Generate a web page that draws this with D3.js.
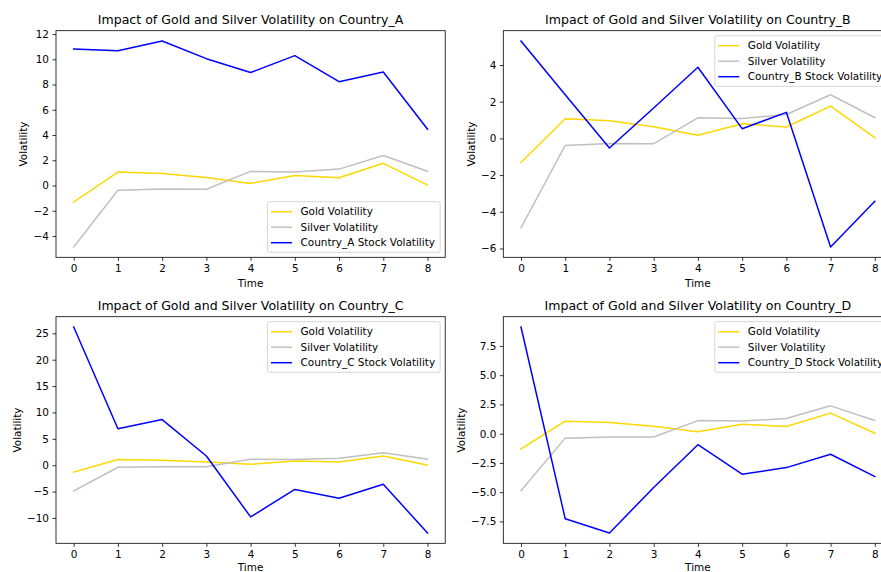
<!DOCTYPE html>
<html>
<head>
<meta charset="utf-8">
<script src="https://cdn.jsdelivr.net/npm/d3@7"></script>
<style>
  html, body { margin: 0; padding: 0; background: #fff; overflow: hidden; }
  svg { display: block; font-family: "DejaVu Sans", sans-serif; }
</style>
</head>
<body>
<svg id="chart" width="881" height="572"></svg>
<script>
// ---- data ----
const times = [0, 1, 2, 3, 4, 5, 6, 7, 8];
const goldVol   = [-1.31, 1.07, 0.96, 0.63, 0.17, 0.80, 0.62, 1.76, 0.04];
const silverVol = [-4.87, -0.38, -0.28, -0.29, 1.12, 1.08, 1.30, 2.38, 1.13];
const countries = ["Country_A", "Country_B", "Country_C", "Country_D"];
const stockA = [10.82, 10.67, 11.45, 10.05, 8.95, 10.29, 8.23, 9.00, 4.47];
const stockB = [5.31, 2.38, -0.52, 1.66, 3.88, 0.53, 1.42, -5.92, -3.43];
const stockC = [26.2, 6.9, 8.65, 1.75, -9.8, -4.6, -6.25, -3.6, -12.85];
const stockD = [9.12, -7.27, -8.49, -4.6, -0.94, -3.46, -2.9, -1.76, -3.66];
const stockSeries = [stockA, stockB, stockC, stockD];
const xTicks = [0, 1, 2, 3, 4, 5, 6, 7, 8];
const yTicksA = [-4, -2, 0, 2, 4, 6, 8, 10, 12];
const yTicksB = [-6, -4, -2, 0, 2, 4];
const yTicksC = [-10, -5, 0, 5, 10, 15, 20, 25];
const yTicksD = [-7.5, -5.0, -2.5, 0.0, 2.5, 5.0, 7.5];
const yTickSets = [yTicksA, yTicksB, yTicksC, yTicksD];
const yTickDecimals = [0, 0, 0, 1];
const legendLoc = ["lower right", "upper right", "upper right", "upper right"];
const seriesColors = { gold: "#FFD700", silver: "#C0C0C0", stock: "#0000FF" };

// ---- layout ----
const svg = d3.select("#chart");
const axW = 389.2, axH = 226.6;
const origins = [[56, 30.7], [503.3, 30.7], [56, 316.7], [503.3, 316.7]];
const fs = 10.45, fsTitle = 12.55;
const fmtMinus = s => s.replace("-", "\u2212");

function extentPad(arrs) {
  const all = arrs.flat();
  const mn = d3.min(all), mx = d3.max(all);
  const p = (mx - mn) * 0.05;
  return [mn - p, mx + p];
}

countries.forEach((c, i) => {
  const [ox, oy] = origins[i];
  const g = svg.append("g").attr("transform", `translate(${ox},${oy})`);
  const stock = stockSeries[i];
  const x = d3.scaleLinear().domain([-0.4, 8.4]).range([0, axW]);
  const y = d3.scaleLinear().domain(extentPad([goldVol, silverVol, stock])).range([axH, 0]);

  const series = [
    { label: "Gold Volatility", values: goldVol, color: seriesColors.gold },
    { label: "Silver Volatility", values: silverVol, color: seriesColors.silver },
    { label: `${c} Stock Volatility`, values: stock, color: seriesColors.stock }
  ];

  const line = d3.line().x((d, k) => x(times[k])).y(d => y(d));
  series.forEach(s => {
    g.append("path").datum(s.values)
      .attr("d", line)
      .attr("fill", "none")
      .attr("stroke", s.color)
      .attr("stroke-width", 1.5)
      .attr("stroke-linejoin", "round")
      .attr("stroke-linecap", "square");
  });

  // axes
  const dec = yTickDecimals[i];
  const xAxis = d3.axisBottom(x).tickValues(xTicks).tickSize(3.5).tickPadding(3.5).tickFormat(d => String(d));
  const yAxis = d3.axisLeft(y).tickValues(yTickSets[i]).tickSize(3.5).tickPadding(3.5)
    .tickFormat(d => fmtMinus(d.toFixed(dec)));
  const gx = g.append("g").attr("transform", `translate(0,${axH})`).call(xAxis);
  const gy = g.append("g").call(yAxis);
  [gx, gy].forEach(a => {
    a.select(".domain").remove();
    a.selectAll(".tick line").attr("stroke", "#000").attr("stroke-width", 0.8);
    a.selectAll(".tick text").attr("font-size", fs).attr("fill", "#000")
      .attr("font-family", "DejaVu Sans");
  });

  // spines
  g.append("rect").attr("x", 0).attr("y", 0).attr("width", axW).attr("height", axH)
    .attr("fill", "none").attr("stroke", "#000").attr("stroke-width", 0.8);

  // title
  g.append("text").attr("x", axW / 2).attr("y", -6.3)
    .attr("text-anchor", "middle").attr("font-size", fsTitle).attr("fill", "#000")
    .text(`Impact of Gold and Silver Volatility on ${c}`);

  // x label
  g.append("text").attr("x", axW / 2).attr("y", i < 2 ? axH + 29.8 : axH + 28)
    .attr("text-anchor", "middle").attr("font-size", fs).attr("fill", "#000")
    .text("Time");

  // y label placed left of tick labels
  let minX = 0;
  gy.selectAll(".tick text").each(function () {
    const b = this.getBBox();
    minX = Math.min(minX, b.x);
  });
  g.append("text")
    .attr("transform", `translate(${minX - 6.4},${axH / 2}) rotate(-90)`)
    .attr("text-anchor", "middle").attr("font-size", fs).attr("fill", "#000")
    .text("Volatility");

  // legend
  const lw = 172.7, lh = 50.6, pad = 5;
  const lx = axW - pad - lw;
  const ly = legendLoc[i] === "lower right" ? axH - pad - lh : pad;
  const lg = g.append("g").attr("transform", `translate(${lx},${ly})`);
  lg.append("rect").attr("width", lw).attr("height", lh).attr("rx", 2).attr("ry", 2)
    .attr("fill", "#fff").attr("fill-opacity", 0.8)
    .attr("stroke", "#cccccc").attr("stroke-width", 0.8);
  series.forEach((s, k) => {
    const cy = 10 + k * 15.5;
    lg.append("line").attr("x1", 3.5).attr("x2", 24.5).attr("y1", cy).attr("y2", cy)
      .attr("stroke", s.color).attr("stroke-width", 1.5);
    lg.append("text").attr("x", 33).attr("y", cy + 3.8)
      .attr("font-size", fs).attr("fill", "#000").text(s.label);
  });
});
</script>
</body>
</html>
